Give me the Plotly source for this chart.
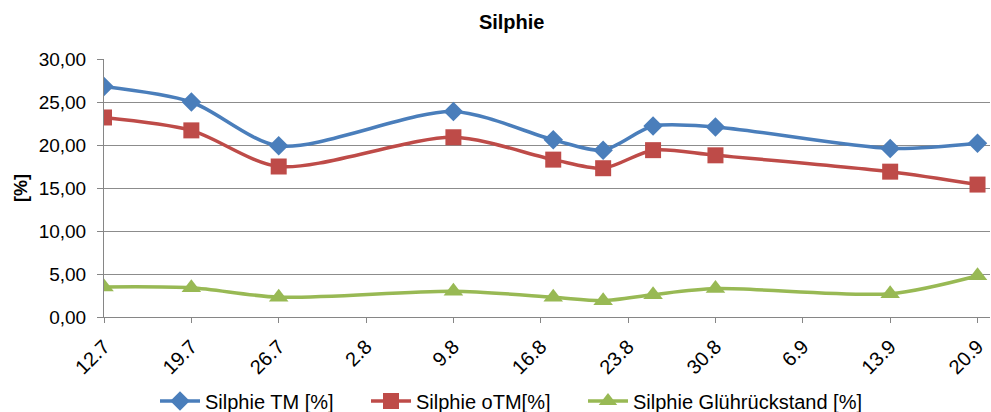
import plotly.graph_objects as go

dates = ["2014-07-12", "2014-07-19", "2014-07-26", "2014-08-09", "2014-08-17",
         "2014-08-21", "2014-08-25", "2014-08-30", "2014-09-13", "2014-09-20"]
tm = [26.8, 25.0, 19.9, 23.9, 20.6, 19.4, 22.2, 22.1, 19.6, 20.2]
otm = [23.2, 21.7, 17.5, 20.9, 18.3, 17.3, 19.4, 18.8, 16.9, 15.4]
gluh = [3.5, 3.4, 2.3, 3.0, 2.3, 1.9, 2.6, 3.3, 2.7, 4.8]

tick_dates = ["2014-07-12", "2014-07-19", "2014-07-26", "2014-08-02", "2014-08-09",
              "2014-08-16", "2014-08-23", "2014-08-30", "2014-09-06", "2014-09-13",
              "2014-09-20"]
tick_text = ["12.7", "19.7", "26.7", "2.8", "9.8", "16.8", "23.8", "30.8", "6.9", "13.9", "20.9"]
y_ticks = [0, 5, 10, 15, 20, 25, 30]
y_text = ["0,00", "5,00", "10,00", "15,00", "20,00", "25,00", "30,00"]

series = [
    ("Silphie TM [%]", tm, "#4A7EBB", "diamond", 15, "legend", 155),
    ("Silphie oTM[%]", otm, "#BE4B48", "square", 16, "legend2", 366),
    ("Silphie Glührückstand [%]", gluh, "#98B954", "triangle-up", 17, "legend3", 583),
]

font = "Liberation Sans, Arial, sans-serif"
fig = go.Figure()
legends = {}
for name, vals, col, sym, sz, leg, lx in series:
    fig.add_trace(go.Scatter(
        x=dates, y=vals, name=name, mode="lines+markers", legend=leg,
        line=dict(color=col, width=3.5, shape="spline", smoothing=0.8),
        marker=dict(color=col, symbol=sym, size=sz),
    ))
    legends[leg] = dict(orientation="h", xref="container", yref="container",
                        x=lx / 991, xanchor="left", y=1 - 401 / 412, yanchor="middle",
                        font=dict(size=20, family=font), itemwidth=40,
                        bgcolor="rgba(0,0,0,0)")

fig.update_layout(
    width=991, height=412,
    margin=dict(l=104, r=1, t=59, b=95),
    paper_bgcolor="white", plot_bgcolor="white",
    font=dict(family=font, size=18, color="black"),
    title=dict(text="<b>Silphie</b>", x=511.7 / 991, xanchor="center", xref="container",
               y=1 - 22 / 412, yanchor="middle", yref="container",
               font=dict(size=20, family=font, color="black")),
    showlegend=True,
    xaxis=dict(type="date", range=["2014-07-12", "2014-09-21"],
               tickvals=tick_dates, ticktext=tick_text, tickangle=-45,
               showgrid=False, showline=True, linecolor="#868686", linewidth=1,
               ticks="outside", ticklen=5, tickcolor="#868686",
               tickfont=dict(size=20), zeroline=False, ticklabelstandoff=4),
    yaxis=dict(range=[0, 30], tickvals=y_ticks, ticktext=y_text,
               showgrid=True, gridcolor="#8c8c8c", gridwidth=1,
               showline=True, linecolor="#868686", linewidth=1,
               ticks="outside", ticklen=6, tickcolor="#868686",
               tickfont=dict(size=19), zeroline=False, ticklabelstandoff=7),
    annotations=[dict(text="<b>[%]</b>", textangle=-90, xref="paper", yref="paper",
                      x=(21 - 104) / 886, y=0.5, xanchor="center", yanchor="middle",
                      showarrow=False, font=dict(size=18))],
    **legends,
)

fig.write_html("out.html")
